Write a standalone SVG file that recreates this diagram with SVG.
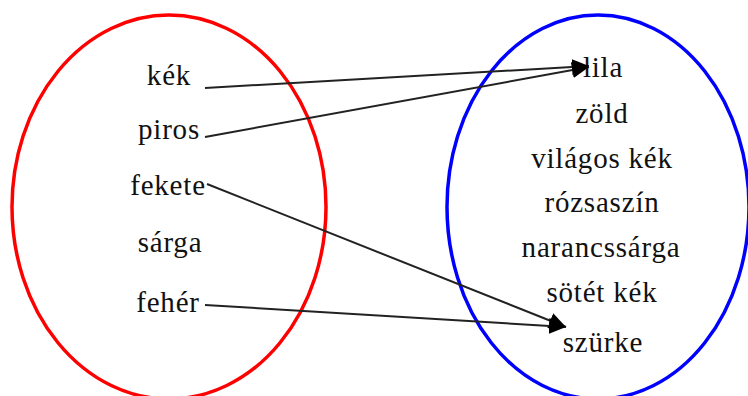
<svg xmlns="http://www.w3.org/2000/svg" width="748" height="396" viewBox="0 0 748 396">
<style>
.set{fill:none;stroke-width:3.5}
.lbl{font-family:"Liberation Serif","Times New Roman",serif;font-size:29px;letter-spacing:0.8px;fill:#111;text-anchor:middle}
.conn{stroke:#222;stroke-width:2;fill:none;marker-end:url(#ah)}
</style>
<defs>
<marker id="ah" markerUnits="userSpaceOnUse" markerWidth="18" markerHeight="16" refX="17" refY="8" orient="auto">
<path d="M0,0 L17,8 L0,16 z" fill="#000"/>
</marker>
</defs>
<rect width="748" height="396" fill="#fff"/>
<g id="set-left"><ellipse class="set" cx="169" cy="207" rx="157" ry="192" stroke="#ff0000"/></g>
<g id="set-right"><ellipse class="set" cx="598" cy="207" rx="151" ry="192" stroke="#0000ff"/></g>
<g id="n-kek"><text class="lbl" x="169" y="85">kék</text></g>
<g id="n-piros"><text class="lbl" x="169" y="139">piros</text></g>
<g id="n-fekete"><text class="lbl" x="168" y="195">fekete</text></g>
<g id="n-sarga"><text class="lbl" x="170" y="252">sárga</text></g>
<g id="n-feher"><text class="lbl" x="168" y="312">fehér</text></g>
<g id="n-lila"><text class="lbl" x="603" y="77">lila</text></g>
<g id="n-zold"><text class="lbl" x="602" y="123">zöld</text></g>
<g id="n-vilagoskek"><text class="lbl" x="602" y="168">világos kék</text></g>
<g id="n-rozsaszin"><text class="lbl" x="602" y="212">rózsaszín</text></g>
<g id="n-narancssarga"><text class="lbl" x="601" y="257">narancssárga</text></g>
<g id="n-sotetkek"><text class="lbl" x="602" y="302">sötét kék</text></g>
<g id="n-szurke"><text class="lbl" x="603" y="352">szürke</text></g>
<g id="connectors">
<line class="conn" x1="205" y1="88" x2="589" y2="66"/>
<line class="conn" x1="205" y1="137" x2="589" y2="67"/>
<line class="conn" x1="207" y1="184" x2="566" y2="327"/>
<line class="conn" x1="205" y1="305" x2="566" y2="327"/>
</g>
</svg>
